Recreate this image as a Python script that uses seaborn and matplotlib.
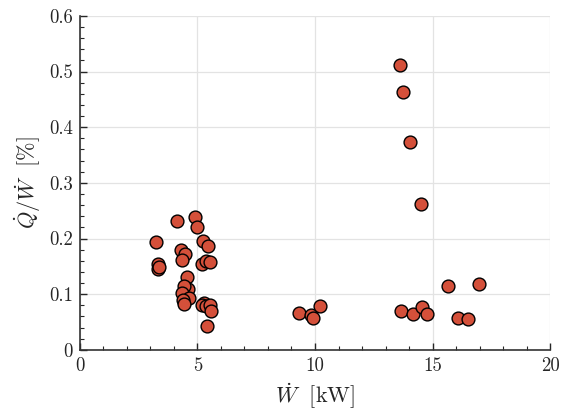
import matplotlib
matplotlib.use('Agg')
import matplotlib.pyplot as plt
from matplotlib.ticker import MultipleLocator
import seaborn as sns
import pandas as pd

# power [kW] and heat ratio [%]
power = [3.24, 3.31, 3.34, 3.36, 4.15, 4.88, 4.96, 5.25, 5.46, 4.28, 4.45, 4.36,
         5.20, 5.37, 5.54, 4.56, 4.59, 4.42, 4.35, 4.62, 4.40, 4.43, 5.27, 5.20,
         5.36, 5.54, 5.59, 5.40,
         9.34, 9.81, 9.92, 10.21,
         13.66, 14.18, 14.55, 14.78, 15.66, 16.97, 16.08, 16.52,
         13.63, 13.76, 14.04, 14.53]
ratio = [0.193, 0.154, 0.145, 0.148, 0.232, 0.238, 0.220, 0.195, 0.187, 0.180, 0.172, 0.162,
         0.155, 0.159, 0.158, 0.130, 0.109, 0.115, 0.102, 0.093, 0.090, 0.083, 0.084, 0.080,
         0.078, 0.081, 0.069, 0.043,
         0.067, 0.062, 0.058, 0.078,
         0.069, 0.065, 0.077, 0.065, 0.114, 0.119, 0.057, 0.056,
         0.511, 0.463, 0.373, 0.262]
xticks = [0, 5, 10, 15, 20]
yticks = [0, 0.1, 0.2, 0.3, 0.4, 0.5, 0.6]

df = pd.DataFrame({'power': power, 'ratio': ratio})

sns.set_style('whitegrid')
plt.rcParams['font.family'] = ['cmr10', 'DejaVu Serif']
plt.rcParams['mathtext.fontset'] = 'cm'
plt.rcParams['axes.formatter.use_mathtext'] = True

fig = plt.figure(figsize=(5.63, 4.17), dpi=100)
ax = fig.add_axes([0.142, 0.161, 0.835, 0.801])

sns.scatterplot(data=df, x='power', y='ratio', ax=ax, color='#D4503A',
                edgecolor='black', linewidth=1.0, s=85, zorder=3)

ax.set_xticks(xticks)
ax.set_xticklabels([str(t) for t in xticks])
ax.set_yticks(yticks)
ax.set_yticklabels(['0'] + ['%.1f' % t for t in yticks[1:]])
ax.xaxis.set_minor_locator(MultipleLocator(1))
ax.yaxis.set_minor_locator(MultipleLocator(0.02))
ax.set_xlim(0, 20)
ax.set_ylim(0, 0.6)
ax.grid(True, which='major', color='#e3e3e3', linewidth=0.9)
ax.tick_params(which='both', direction='in', left=True, bottom=True, labelsize=13.5)
ax.tick_params(which='major', length=5, width=1, pad=5)
ax.tick_params(which='minor', length=3, width=0.8)

for side in ['top', 'right']:
    ax.spines[side].set_visible(False)
for side in ['left', 'bottom']:
    ax.spines[side].set_color('#333333')
    ax.spines[side].set_linewidth(1.2)

ax.set_xlabel(r'$\dot{W}\ \ \mathrm{[kW]}$', fontsize=16, labelpad=5)
ax.set_ylabel(r'$\dot{Q}/\dot{W}\ \ \mathrm{[\%]}$', fontsize=16, labelpad=4)

fig.savefig('out.png', dpi=100)
